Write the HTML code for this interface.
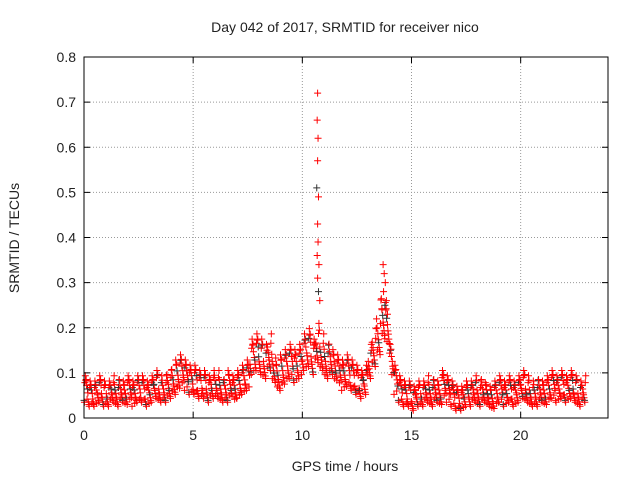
<!DOCTYPE html>
<html><head><meta charset="utf-8"><style>
body{margin:0;background:#fff}
text{font-family:"Liberation Sans",sans-serif;font-size:14px;fill:#222}
</style></head><body>
<svg id="chart" width="640" height="480" xmlns="http://www.w3.org/2000/svg">
<text x="345" y="32" text-anchor="middle">Day 042 of 2017, SRMTID for receiver nico</text>
<text x="345" y="471" text-anchor="middle">GPS time / hours</text>
<text transform="translate(19,238) rotate(-90)" text-anchor="middle">SRMTID / TECUs</text>
<g id="grid"></g><g id="marks"></g><g id="axes"></g>
</svg>
<script>
const xTicks=[0,5,10,15,20];
const yTicks=[0,0.1,0.2,0.3,0.4,0.5,0.6,0.7,0.8];
const yTickLabels=["0","0.1","0.2","0.3","0.4","0.5","0.6","0.7","0.8"];
const timeStep=0.2;
const midValues=[.06,.05,.05,.06,.05,.05,.06,.05,.06,.05,
.06,.05,.06,.06,.05,.06,.07,.06,.06,.07,
.08,.09,.10,.09,.08,.08,.07,.07,.06,.07,
.07,.06,.06,.07,.06,.07,.08,.09,.13,.14,
.13,.12,.14,.11,.09,.10,.11,.12,.11,.12,
.14,.15,.13,.16,.14,.12,.13,.11,.10,.09,
.10,.09,.08,.07,.08,.12,.15,.18,.22,.20,
.12,.08,.06,.05,.05,.04,.05,.05,.06,.05,
.06,.05,.07,.06,.05,.04,.04,.05,.05,.06,
.05,.06,.05,.04,.05,.06,.05,.06,.05,.06,
.07,.06,.05,.05,.06,.05,.06,.07,.06,.07,
.06,.07,.06,.05,.06];
const jitterOffsets=[-0.025,0.03,-0.01,0.04,0.005,-0.03,0.015,-0.018,0.028,-0.005,0.022,-0.022];
const spikeTimes=[10.7,10.68,10.72,10.7,10.66,10.74,10.7,10.72,10.68,10.76,10.7,10.74,10.8,13.7,13.75,13.8,13.72,13.85,13.78,13.9,13.65];
const spikeValues=[0.72,0.66,0.62,0.57,0.51,0.49,0.43,0.39,0.36,0.34,0.31,0.28,0.26,0.34,0.32,0.30,0.28,0.26,0.25,0.23,0.24];
const NS="http://www.w3.org/2000/svg";
const X0=84,X1=608,Y0=418,Y1=57;
const xs=v=>X0+v*(X1-X0)/24;
const ys=v=>Y0-v*(Y0-Y1)/0.8;
function el(tag,attrs,parent){const e=document.createElementNS(NS,tag);for(const k in attrs)e.setAttribute(k,attrs[k]);parent.appendChild(e);return e;}
const grid=document.getElementById('grid'),axes=document.getElementById('axes'),marks=document.getElementById('marks');
xTicks.forEach((t,i)=>{
 if(t>0){const g=el('line',{x1:xs(t),x2:xs(t),y1:Y1,y2:Y0,stroke:'#999','stroke-dasharray':'1,2'},grid);
 
 }
 const l=el('text',{x:xs(t),y:Y0+22,'text-anchor':'middle'},axes);l.textContent=t;
 
 
 el('line',{x1:xs(t),x2:xs(t),y1:Y0,y2:Y0-6,stroke:'#000'},axes);
 el('line',{x1:xs(t),x2:xs(t),y1:Y1,y2:Y1+6,stroke:'#000'},axes);
});
yTicks.forEach((t,i)=>{
 if(t>0&&t<0.8){const g=el('line',{x1:X0,x2:X1,y1:ys(t),y2:ys(t),stroke:'#999','stroke-dasharray':'1,2'},grid);
 
 }
 const l=el('text',{x:X0-8,y:ys(t)+5,'text-anchor':'end'},axes);l.textContent=yTickLabels[i];
 
 
 el('line',{x1:X0,x2:X0+6,y1:ys(t),y2:ys(t),stroke:'#000'},axes);
 el('line',{x1:X1,x2:X1-6,y1:ys(t),y2:ys(t),stroke:'#000'},axes);
});
const frame=el('rect',{x:X0,y:Y1,width:X1-X0,height:Y0-Y1,fill:'none',stroke:'#000'},axes);


function plus(t,v,c){const x=xs(t),y=ys(v);
 const p=el('path',{d:`M${x-3.5},${y}h7M${x},${y-3.5}v7`,stroke:c,'stroke-width':1},marks);
 
 }
midValues.forEach((v,i)=>{
 const t=i*timeStep;
 for(let k=0;k<10;k++){
  const tt=t+k*timeStep/10;
  const off=jitterOffsets[(k*5+i*7)%12]*(0.6+v*4);
  plus(tt,Math.max(0.005,v+off),(k+i)%8===0?'#333':'#f00');
 }
});
spikeTimes.forEach((t,i)=>plus(t,spikeValues[i],i%7===4?'#333':'#f00'));
</script>
</body></html>
